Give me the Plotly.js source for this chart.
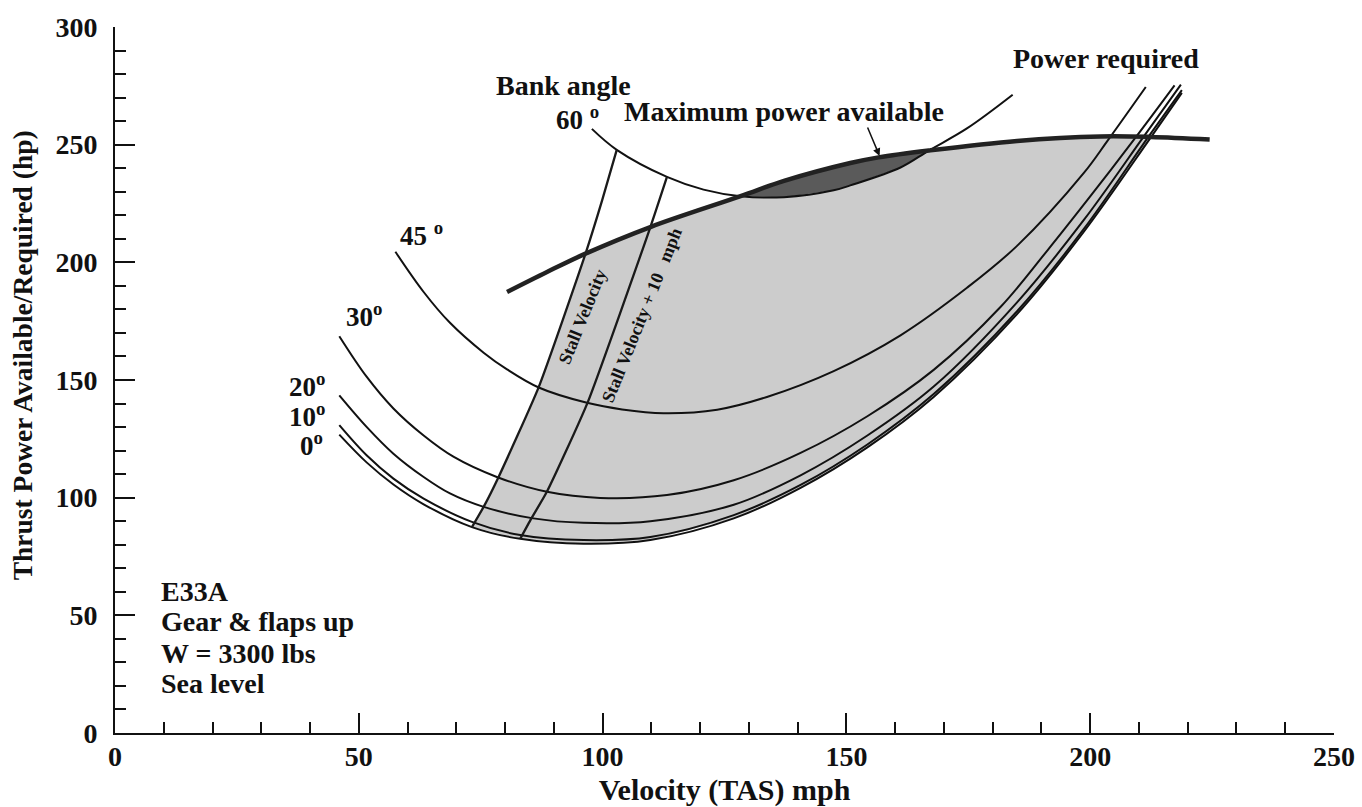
<!DOCTYPE html>
<html><head><meta charset="utf-8">
<script src="https://cdn.plot.ly/plotly-3.0.1.min.js"></script>
<style>html,body{margin:0;padding:0;background:#fff}#chart{width:1362px;height:807px}</style>
</head><body><div id="chart"></div>
<script>
// Power required (hp) vs true airspeed (mph) at each bank angle
const bank0V  = [46.0, 51.6, 57.1, 63.3, 73.2, 83.1, 96.1, 109.8, 126.9, 140.6, 154.3, 167.9, 185.0, 198.7, 212.4, 218.8];
const bank0P  = [126.8, 115.0, 105.6, 97.2, 87.5, 82.5, 80.4, 82.0, 91.2, 104.2, 121.4, 142.8, 178.0, 213.0, 253.0, 272.0];
const bank10V = [46.0, 51.6, 57.1, 63.3, 73.2, 83.1, 96.1, 109.8, 126.9, 140.6, 154.3, 167.9, 185.0, 198.7, 212.0, 218.8];
const bank10P = [130.8, 118.0, 108.1, 99.6, 89.7, 84.1, 82.0, 83.3, 92.6, 105.4, 122.6, 144.0, 179.2, 214.2, 253.5, 273.2];
const bank20V = [46.0, 51.6, 57.1, 63.3, 68.7, 75.6, 85.8, 96.1, 109.8, 126.9, 140.6, 154.3, 167.9, 185.0, 198.7, 211.0, 218.6];
const bank20P = [143.5, 130.1, 118.7, 108.8, 101.8, 96.1, 91.2, 89.3, 90.0, 97.0, 109.5, 126.4, 147.2, 183.0, 218.0, 253.5, 275.5];
const bank30V = [46.0, 51.6, 57.1, 63.3, 69.4, 78.3, 88.6, 99.5, 113.2, 126.9, 140.6, 154.3, 167.9, 181.6, 191.2, 200.0, 209.4, 217.3];
const bank30P = [168.6, 151.4, 137.9, 126.4, 117.4, 108.8, 102.5, 99.9, 101.1, 107.4, 119.0, 134.6, 154.3, 181.0, 205.0, 228.0, 253.3, 275.2];
const bank45V = [57.5, 63.3, 68.7, 75.6, 80.4, 86.9, 96.8, 104.0, 112.5, 123.5, 133.7, 147.4, 161.1, 174.8, 185.0, 198.7, 203.5, 211.4];
const bank45P = [204.5, 187.4, 174.3, 161.6, 154.5, 146.8, 140.3, 137.5, 135.9, 137.4, 142.8, 153.8, 169.0, 189.3, 207.0, 238.0, 251.5, 274.5];
const bank60V = [97.8, 102.9, 113.2, 120.7, 128.3, 137.2, 147.4, 150.8, 161.1, 166.9, 174.8, 184.1];
const bank60P = [256.7, 247.8, 236.3, 230.9, 228.1, 227.7, 230.6, 232.7, 240.3, 247.5, 257.0, 271.2];
// Maximum power available
const maxPowV = [80.4, 88.6, 96.5, 109.8, 128.3, 137.2, 150.8, 156.6, 166.9, 185.0, 202.1, 212.4, 224.5];
const maxPowP = [187.4, 195.9, 203.7, 215.0, 228.1, 234.6, 242.2, 244.6, 247.5, 251.6, 253.5, 253.3, 252.2];
// Stall velocity lines
const stallV   = [73.2, 75.6, 78.6, 86.9, 96.5, 99.9, 102.9];
const stallP   = [87.5, 96.1, 108.5, 147.0, 203.7, 226.3, 247.8];
const stall10V = [83.1, 85.4, 88.6, 96.9, 109.8, 113.2];
const stall10P = [82.5, 91.2, 102.6, 140.3, 215.0, 236.3];
// Labels
const bankLabels = ['0', '10', '20', '30', '45 ', '60 '];
const infoLines = ['E33A', 'Gear & flaps up', 'W = 3300 lbs', 'Sea level'];

function pick(xs, ys, lo, hi) {
  const ox = [], oy = [];
  xs.forEach((x, i) => { if (x >= lo - 1e-9 && x <= hi + 1e-9) { ox.push(x); oy.push(ys[i]); } });
  return [ox, oy];
}
// light region: stall line (up to max power), max power curve, 0 deg curve back
const sA = pick(stallV, stallP, stallV[0], 96.5);
const mA = pick(maxPowV, maxPowP, 96.6, 212.4);
const bA = pick(bank0V, bank0P, 73.2, 212.4);
const lightX = sA[0].concat(mA[0], bA[0].slice().reverse());
const lightY = sA[1].concat(mA[1], bA[1].slice().reverse());
// dark region: between max power and 60 deg curve
const mD = pick(maxPowV, maxPowP, 128.3, 166.9);
const dD = pick(bank60V, bank60P, 128.3, 166.9);
const darkX = mD[0].concat(dD[0].slice().reverse());
const darkY = mD[1].concat(dD[1].slice().reverse());

const FONT = '"Liberation Serif", "Times New Roman", Times, serif';
const thin = {color: '#111', width: 2, shape: 'spline', smoothing: 1};
function curve(x, y, name, line) {
  return {x: x, y: y, type: 'scatter', mode: 'lines', name: name, line: line || thin, hoverinfo: 'skip'};
}
const traces = [
  {x: lightX, y: lightY, type: 'scatter', mode: 'lines', fill: 'toself', fillcolor: '#cccccc', line: {width: 0}, hoverinfo: 'skip', name: 'Operating region'},
  {x: darkX, y: darkY, type: 'scatter', mode: 'lines', fill: 'toself', fillcolor: '#5a5a5a', line: {width: 0}, hoverinfo: 'skip', name: '60° region'},
  curve(bank0V, bank0P, '0°'),
  curve(bank10V, bank10P, '10°'),
  curve(bank20V, bank20P, '20°'),
  curve(bank30V, bank30P, '30°'),
  curve(bank45V, bank45P, '45°'),
  curve(bank60V, bank60P, '60°'),
  curve(stallV, stallP, 'Stall Velocity', {color: '#1a1a1a', width: 2.3, shape: 'spline', smoothing: 0.5}),
  curve(stall10V, stall10P, 'Stall Velocity + 10 mph', {color: '#1a1a1a', width: 2.3, shape: 'spline', smoothing: 0.5}),
  curve(maxPowV, maxPowP, 'Maximum power available', {color: '#222', width: 4.5, shape: 'spline', smoothing: 1})
];

function bold(size) { return {family: FONT, size: size, color: '#111', weight: 700}; }
const ann = [];
function txt(t, x, y, size, extra) {
  ann.push(Object.assign({text: t, x: x, y: y, xref: 'x', yref: 'y', showarrow: false, font: bold(size), xanchor: 'center', yanchor: 'middle'}, extra || {}));
}
txt('Bank angle', 92.0, 275.0, 28);
txt('Maximum power available', 137.1, 264.0, 28);
txt('Power required', 203.3, 286.6, 28);
txt(bankLabels[5] + '<sup>o</sup>', 94.9, 261.5, 27);
txt(bankLabels[4] + '<sup>o</sup>', 62.9, 212.0, 27);
txt(bankLabels[3] + '<sup>o</sup>', 51.1, 177.5, 27);
txt(bankLabels[2] + '<sup>o</sup>', 39.4, 147.8, 27);
txt(bankLabels[1] + '<sup>o</sup>', 39.4, 135.2, 27);
txt(bankLabels[0] + '<sup>o</sup>', 40.4, 123.0, 27);
infoLines.forEach((t, i) => txt(t, 9.0, [60.1, 47.3, 33.6, 21.0][i], 28, {xanchor: 'left'}));
txt('Stall Velocity', 95.8, 176.9, 18, {textangle: -68});
txt('Stall Velocity + 10\u00a0\u00a0 mph', 108.1, 177.5, 18, {textangle: -68});
// arrow to maximum power curve
ann.push({text: '', x: 156.8, y: 245.2, xref: 'x', yref: 'y', showarrow: true, ax: -12.6, ay: -30, arrowhead: 2, arrowsize: 1, arrowwidth: 1.5, arrowcolor: '#111'});
// y axis title
ann.push({text: 'Thrust Power Available/Required (hp)', xref: 'paper', yref: 'paper', x: -0.0763, y: 0.535, textangle: -90, showarrow: false, font: bold(27.5), xanchor: 'center', yanchor: 'middle'});

const axisCommon = {
  showline: true, linecolor: '#111', linewidth: 2, showgrid: false, zeroline: false,
  ticks: 'inside', ticklen: 20, tickwidth: 2, tickcolor: '#111',
  tickfont: bold(28),
  minor: {ticks: 'inside', ticklen: 11, tickwidth: 2, tickcolor: '#111', showgrid: false}
};
const layout = {
  width: 1362, height: 807,
  margin: {l: 115, r: 28, t: 27, b: 74, pad: 0},
  paper_bgcolor: '#fff', plot_bgcolor: '#fff',
  showlegend: false,
  font: {family: FONT, color: '#111'},
  xaxis: Object.assign({}, axisCommon, {range: [0, 250], tick0: 0, dtick: 50, minor: Object.assign({}, axisCommon.minor, {dtick: 10}),
    ticklabelstandoff: -3,
    title: {text: 'Velocity (TAS) mph', font: bold(30), standoff: 17}}),
  yaxis: Object.assign({}, axisCommon, {range: [0, 300], tick0: 0, dtick: 50, minor: Object.assign({}, axisCommon.minor, {dtick: 10}),
    ticklabelstandoff: 10}),
  annotations: ann
};
Plotly.newPlot('chart', traces, layout, {displayModeBar: false, staticPlot: true});
</script></body></html>
